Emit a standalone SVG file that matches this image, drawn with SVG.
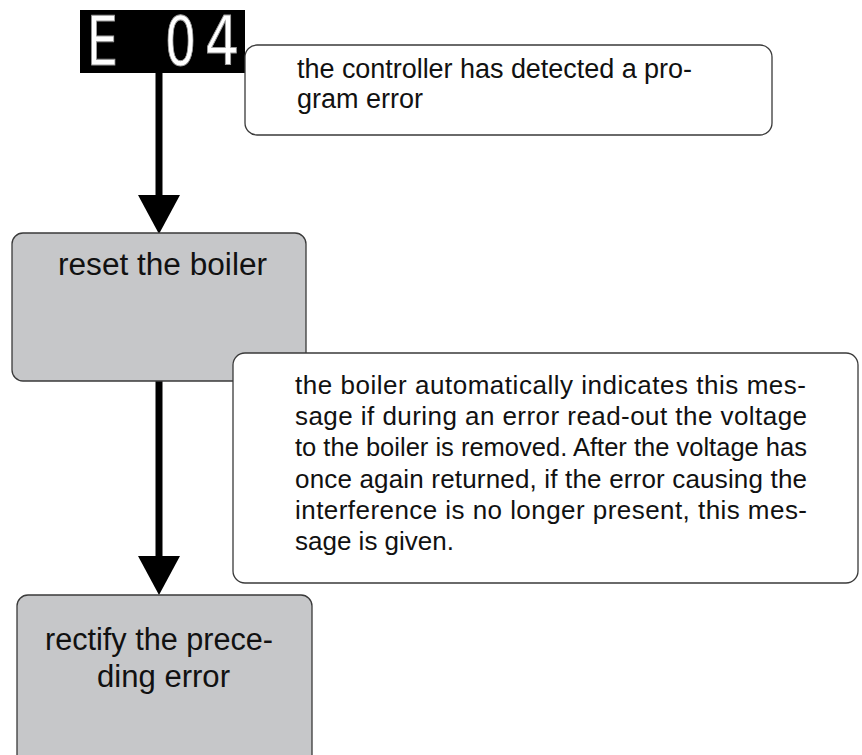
<svg xmlns="http://www.w3.org/2000/svg" width="862" height="755" viewBox="0 0 862 755">
<style>
.gray{fill:#c6c7c9;stroke:#3a3a3a;stroke-width:1.3}
.note{fill:#ffffff;stroke:#3a3a3a;stroke-width:1.3}
.t{font-family:"Liberation Sans",Arial,sans-serif;fill:#111}
.s{font-size:27px}
.m{font-size:26px}
.b{font-size:31px}
.seg{font-family:"DejaVu Sans",sans-serif;font-size:68px;fill:#ffffff;stroke:#9a9a9a;stroke-width:1}
.conn{stroke:#000;stroke-width:7;fill:none}
.head{fill:#000}
</style>
<rect width="862" height="755" fill="#ffffff"/>
<g id="display">
<rect x="80" y="10" width="165" height="63" fill="#000"/>
<text class="seg" text-anchor="middle" transform="translate(102.5,65) scale(0.73,1)">E</text>
<text class="seg" text-anchor="middle" transform="translate(180.5,65) scale(0.73,1)">0</text>
<text class="seg" text-anchor="middle" transform="translate(222,65) scale(0.8,1)">4</text>
</g>
<g id="note1">
<rect class="note" x="245" y="45" width="527" height="90" rx="12"/>
<text class="t s" x="297" y="78" textLength="395" lengthAdjust="spacing">the controller has detected a pro-</text>
<text class="t s" x="297" y="108">gram error</text>
</g>
<g id="connectors">
<line class="conn" x1="159" y1="73" x2="159" y2="197"/>
<polygon class="head" points="138,195 180,195 159,234"/>
<line class="conn" x1="159" y1="381" x2="159" y2="558"/>
<polygon class="head" points="138,556 180,556 159,595"/>
</g>
<g id="reset">
<rect class="gray" x="12" y="233" width="294" height="148" rx="11"/>
<text class="t b" x="58" y="275" textLength="209" lengthAdjust="spacingAndGlyphs">reset the boiler</text>
</g>
<g id="note2">
<rect class="note" x="233" y="353" width="625" height="230" rx="12"/>
<text class="t m" x="295" y="394" textLength="511" lengthAdjust="spacing">the boiler automatically indicates this mes-</text>
<text class="t m" x="295" y="425" textLength="512" lengthAdjust="spacing">sage if during an error read-out the voltage</text>
<text class="t m" x="295" y="456" textLength="512" lengthAdjust="spacingAndGlyphs">to the boiler is removed. After the voltage has</text>
<text class="t m" x="295" y="488" textLength="512" lengthAdjust="spacing">once again returned, if the error causing the</text>
<text class="t m" x="295" y="519" textLength="512" lengthAdjust="spacing">interference is no longer present, this mes-</text>
<text class="t m" x="295" y="550">sage is given.</text>
</g>
<g id="rectify">
<rect class="gray" x="17" y="595" width="295" height="200" rx="11"/>
<text class="t b" x="45" y="650" textLength="228" lengthAdjust="spacingAndGlyphs">rectify the prece-</text>
<text class="t b" x="97" y="687" textLength="133" lengthAdjust="spacingAndGlyphs">ding error</text>
</g>
</svg>
